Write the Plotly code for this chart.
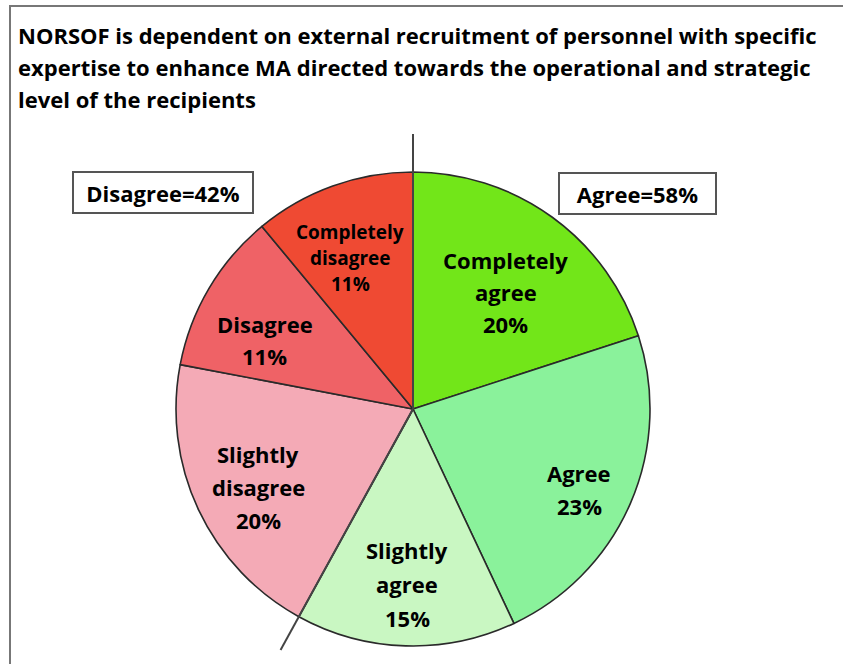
import math
import plotly.graph_objects as go

# ---- data ----
categories = ["Completely agree", "Agree", "Slightly agree",
              "Slightly disagree", "Disagree", "Completely disagree"]
values = [20, 23, 15, 20, 11, 11]
label_words = [["Completely", "agree"], ["Agree"], ["Slightly", "agree"],
               ["Slightly", "disagree"], ["Disagree"], ["Completely", "disagree"]]
group_labels = ["Agree=58%", "Disagree=42%"]
title_lines = ["NORSOF is dependent on external recruitment of personnel with specific",
               "expertise to enhance MA directed towards the operational and strategic",
               "level of the recipients"]

# ---- style ----
colors = ["#72E619", "#8AF29B", "#C9F7C2", "#F4AAB6", "#EF6266", "#EF4A33"]
font_sizes = [22, 22, 22, 22, 22, 19]
line_gaps = [32, 33, 34, 33, 32, 26]
label_radius = [0.63, 0.78, 0.74, 0.73, 0.69, 0.69]
angle_offset_deg = [2.5, 2.5, 0, -1.5, -5.5, -2.7]
FONT = "Open Sans"

W, H = 843, 664
cx, cy, R = 413, 409, 237  # pixel geometry of pie


def px(x):
    return x / W


def py(y):
    return 1 - y / H


fig = go.Figure(go.Pie(
    labels=categories, values=values, textinfo="none",
    sort=False, direction="clockwise", rotation=0,
    marker=dict(colors=colors, line=dict(color="#2a2a2a", width=1.6)),
    domain=dict(x=[px(cx - R), px(cx + R)], y=[py(cy + R), py(cy - R)]),
    showlegend=False, hoverinfo="label+percent",
))

shapes = []
# frame (left and top edges visible)
shapes.append(dict(type="rect", xref="paper", yref="paper",
                   x0=px(10), x1=1.05, y0=-0.05, y1=py(6),
                   line=dict(color="#777777", width=2), layer="above"))

total = sum(values)
# divider lines between agree and disagree groups
agree_share = sum(values[:3]) / total
for frac in [0.0, agree_share]:
    ang = frac * 2 * math.pi
    x1 = cx + 1.16 * R * math.sin(ang)
    y1 = cy - 1.16 * R * math.cos(ang)
    shapes.append(dict(type="line", xref="paper", yref="paper",
                       x0=px(cx), y0=py(cy), x1=px(x1), y1=py(y1),
                       line=dict(color="#444444", width=2)))

annotations = []
for i, line in enumerate(title_lines):
    annotations.append(dict(text="<b>" + line + "</b>", x=px(16), y=py(35 + 32 * i),
                            xref="paper", yref="paper", xanchor="left", yanchor="middle",
                            showarrow=False, font=dict(family=FONT, size=22, color="black")))

# slice labels, placed at each slice's mid angle
cum = 0
for i, v in enumerate(values):
    mid = (cum + v / 2) / total * 2 * math.pi + math.radians(angle_offset_deg[i])
    cum += v
    lx = cx + label_radius[i] * R * math.sin(mid)
    ly = cy - label_radius[i] * R * math.cos(mid)
    lines = label_words[i] + [f"{round(100 * v / total)}%"]
    n = len(lines)
    for k, t in enumerate(lines):
        yy = ly + (k - (n - 1) / 2) * line_gaps[i]
        annotations.append(dict(text="<b>" + t + "</b>", x=px(lx), y=py(yy),
                                xref="paper", yref="paper", xanchor="center", yanchor="middle",
                                showarrow=False,
                                font=dict(family=FONT, size=font_sizes[i], color="black")))

annotations += [
    dict(text="<b>" + group_labels[1] + "</b>", x=px(163), y=py(192), xref="paper", yref="paper",
         xanchor="center", yanchor="middle",
         showarrow=False, font=dict(family=FONT, size=22, color="black"),
         bordercolor="#555555", borderwidth=2, borderpad=2, width=174, height=35, bgcolor="white"),
    dict(text="<b>" + group_labels[0] + "</b>", x=px(637), y=py(193), xref="paper", yref="paper",
         xanchor="center", yanchor="middle",
         showarrow=False, font=dict(family=FONT, size=22, color="black"),
         bordercolor="#555555", borderwidth=2, borderpad=2, width=151, height=35, bgcolor="white"),
]

fig.update_layout(width=W, height=H, margin=dict(l=0, r=0, t=0, b=0),
                  paper_bgcolor="white", shapes=shapes, annotations=annotations)
fig.write_html("out.html", config={"displayModeBar": False},
               post_script="document.body.style.margin='0';")
